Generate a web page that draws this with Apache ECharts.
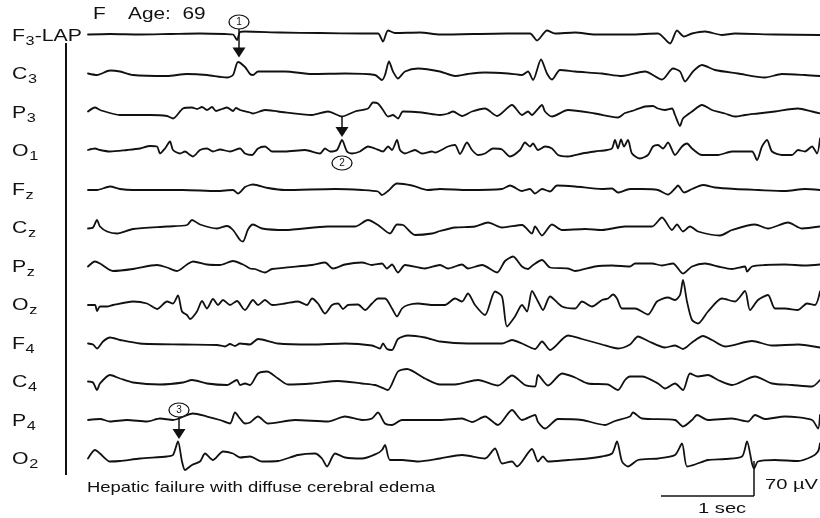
<!DOCTYPE html>
<html><head><meta charset="utf-8">
<script src="https://cdn.jsdelivr.net/npm/echarts@6/dist/echarts.min.js"></script>
<style>html,body{margin:0;padding:0;background:#fff}#c{width:820px;height:518px}</style>
</head><body><div id="c"></div>
<script>
// ---- data: [sample index, deflection µV] per channel (FS samples per second) ----
const FS = 93;          // samples per second
const SPACING = 77;     // µV between channel baselines
const CHANNEL_NAMES = ['F3-LAP','C3','P3','O1','Fz','Cz','Pz','Oz','F4','C4','P4','O2'];
const LABELS = [['F','3','-LAP'],['C','3',''],['P','3',''],['O','1',''],['F','z',''],['C','z',''],['P','z',''],['O','z',''],['F','4',''],['C','4',''],['P','4',''],['O','2','']];

const F3_LAP = [[0,1],[22,2],[52,1],[82,2],[112,3],[137,2],[145,1],[149,-10],[152,6],[157,7],[192,5],[232,4],[274,3],[290,3],[295,-13],[300,9],[307,4],[332,5],[352,1],[419,3],[442,3],[449,-11],[459,9],[467,3],[487,5],[507,1],[542,1],[570,3],[582,-17],[589,9],[596,-3],[604,3],[617,7],[634,0],[647,3],[687,1],[732,0]];
const C3 = [[0,0],[9,-3],[22,6],[32,4],[45,-3],[79,-5],[99,-1],[119,-3],[139,-8],[145,-3],[150,23],[157,13],[162,-1],[165,-3],[170,4],[197,4],[224,-1],[257,0],[287,-3],[294,-13],[297,-3],[301,24],[305,4],[310,-10],[317,4],[330,10],[352,4],[367,-5],[380,-1],[397,2],[420,0],[434,-3],[440,4],[445,-13],[453,28],[459,0],[464,-12],[472,7],[487,4],[514,0],[534,-5],[557,4],[574,-12],[585,10],[592,4],[597,-16],[605,4],[614,17],[627,7],[650,0],[677,-8],[694,-1],[717,-3],[732,-5]];
const P3 = [[0,1],[7,9],[12,4],[32,-6],[62,-6],[79,-8],[85,-13],[95,7],[104,9],[109,6],[114,10],[119,4],[124,10],[128,2],[134,6],[139,9],[145,2],[148,8],[152,4],[162,-1],[165,-3],[177,4],[190,1],[224,-6],[240,1],[254,-9],[267,1],[280,7],[285,19],[290,17],[295,4],[300,-9],[305,-6],[310,-13],[315,1],[334,-1],[352,-6],[360,-3],[365,1],[374,-8],[384,1],[397,7],[409,-8],[424,14],[434,-6],[440,1],[444,-6],[449,4],[454,14],[457,1],[464,-9],[480,4],[507,-3],[530,-11],[537,-2],[547,4],[557,11],[565,12],[570,7],[577,4],[584,7],[587,-6],[592,-28],[595,-13],[604,1],[614,14],[624,4],[637,-3],[647,-9],[657,-6],[670,-3],[687,1],[710,7],[724,1],[732,-3]];
const O1 = [[0,1],[7,4],[12,1],[22,-2],[39,1],[52,4],[62,9],[69,8],[72,-6],[77,4],[82,18],[85,1],[92,-6],[97,-2],[102,-9],[105,-12],[112,1],[119,4],[125,-2],[132,2],[142,-2],[152,4],[157,-6],[164,-9],[170,4],[177,8],[184,-2],[197,-2],[217,1],[232,-6],[237,4],[242,-2],[249,1],[254,21],[259,-2],[264,-6],[272,-2],[280,8],[287,4],[295,-2],[300,8],[304,1],[309,21],[312,1],[317,-6],[327,1],[334,-6],[344,-2],[347,-4],[360,8],[367,11],[372,-7],[379,16],[384,1],[390,-9],[397,-6],[405,4],[414,2],[422,-12],[432,1],[437,16],[442,8],[445,14],[450,1],[457,8],[464,4],[470,-9],[480,-12],[494,-6],[507,-2],[519,1],[524,4],[527,21],[530,4],[533,22],[536,8],[540,21],[544,-6],[552,-16],[560,-9],[565,8],[570,11],[575,4],[580,16],[587,-9],[594,8],[599,14],[604,4],[614,-9],[630,-9],[644,-2],[664,-2],[669,-19],[674,8],[679,21],[684,-2],[694,-9],[704,-9],[710,1],[717,-2],[724,8],[729,-6],[732,24]];
const FZ = [[0,-2],[9,-2],[22,5],[32,0],[45,-2],[95,-2],[129,-4],[145,-2],[150,-9],[157,4],[162,8],[165,9],[180,2],[197,-2],[247,0],[274,-2],[290,-5],[294,-12],[300,-4],[309,11],[324,7],[340,-2],[352,0],[380,-2],[414,0],[422,7],[434,-4],[442,0],[447,-9],[454,0],[462,-5],[469,7],[487,5],[514,0],[524,1],[530,-7],[542,0],[554,0],[570,-2],[580,-11],[587,1],[590,7],[596,-7],[604,0],[615,8],[627,3],[647,0],[670,-2],[697,-4],[717,0],[732,-2]];
const CZ = [[0,-2],[5,0],[9,15],[12,2],[19,-8],[29,-12],[45,-3],[79,2],[99,5],[104,15],[112,6],[129,-2],[139,3],[145,-5],[152,-25],[155,-28],[160,-4],[165,6],[174,-2],[197,-5],[240,2],[267,2],[280,15],[290,5],[302,-12],[309,6],[315,5],[327,-15],[344,-12],[352,-7],[367,0],[387,2],[400,10],[414,0],[434,5],[444,-12],[447,2],[454,-16],[464,6],[474,-5],[497,-3],[514,-5],[537,2],[564,2],[574,20],[584,-5],[589,6],[595,-8],[602,2],[610,-8],[632,-16],[644,-5],[667,6],[680,-2],[700,10],[714,-2],[732,2]];
const PZ = [[0,-1],[7,9],[12,5],[25,-10],[45,-6],[69,2],[79,-3],[89,-10],[99,3],[105,9],[119,3],[132,2],[145,10],[155,3],[162,-5],[167,-6],[177,-13],[184,-6],[224,2],[237,7],[245,-5],[257,3],[274,7],[284,2],[294,5],[299,-5],[304,3],[310,-13],[317,2],[337,-5],[352,2],[360,-5],[374,3],[380,-5],[394,2],[409,-13],[417,10],[425,19],[434,-1],[440,-6],[445,2],[454,12],[462,-3],[480,-5],[487,-10],[507,-1],[524,1],[542,-1],[547,5],[564,5],[574,1],[585,5],[595,-15],[604,-1],[617,5],[630,-1],[644,-6],[657,-1],[659,-11],[664,-1],[677,2],[697,3],[717,1],[732,3]];
const OZ = [[0,-1],[7,-1],[9,-13],[12,-4],[19,-4],[25,-1],[45,6],[59,2],[69,-9],[79,6],[85,2],[90,18],[94,-14],[99,-21],[102,-29],[109,-14],[114,7],[119,-8],[125,11],[130,-1],[135,9],[142,-1],[149,7],[155,-8],[157,-11],[165,9],[170,-1],[177,9],[184,-1],[197,2],[210,6],[219,-1],[224,12],[230,2],[237,-18],[244,-1],[250,2],[255,-9],[260,-1],[270,0],[277,-11],[284,2],[290,12],[297,12],[304,-8],[309,-24],[314,-8],[320,-1],[330,2],[344,-1],[352,-1],[357,-1],[367,12],[374,6],[380,22],[387,-1],[397,-21],[407,26],[414,16],[419,-44],[427,-24],[434,-1],[439,-14],[444,27],[450,6],[455,-11],[462,16],[474,-4],[487,-8],[494,6],[504,-4],[514,9],[520,12],[525,20],[529,12],[534,-8],[547,-8],[560,-20],[569,6],[580,14],[587,9],[592,19],[595,49],[599,6],[604,-31],[610,-38],[620,-14],[634,12],[647,6],[657,27],[662,-11],[670,9],[680,19],[687,-8],[697,-8],[710,-11],[719,2],[727,-1],[732,26]];
const F4 = [[0,-1],[5,-3],[9,-11],[15,3],[22,11],[32,6],[52,-1],[95,-3],[129,-4],[137,-7],[142,-2],[147,-6],[152,-1],[162,-3],[170,8],[190,-1],[224,-3],[257,-1],[284,-5],[292,-11],[295,-1],[299,-12],[304,-14],[310,8],[320,15],[337,11],[352,3],[380,-1],[414,-1],[424,6],[434,-1],[447,-12],[454,3],[462,-14],[480,15],[494,8],[514,-3],[530,-11],[542,-3],[550,13],[560,4],[577,-9],[587,-5],[595,-12],[604,1],[615,14],[624,6],[637,-7],[664,4],[684,-5],[710,-3],[732,-9]];
const C4 = [[0,0],[5,-2],[9,-17],[12,-4],[22,13],[32,6],[45,-2],[72,-6],[95,-2],[104,3],[119,-4],[139,-7],[149,3],[152,-7],[157,-4],[162,-7],[170,16],[179,20],[190,6],[200,-6],[224,-4],[250,1],[274,-4],[287,-7],[297,-15],[300,-17],[310,20],[319,25],[337,6],[352,-6],[367,-6],[390,3],[410,-8],[424,12],[437,-7],[447,-10],[450,13],[460,-8],[474,16],[487,8],[500,-4],[520,-6],[530,-17],[537,3],[542,10],[554,10],[570,-4],[577,-14],[587,-4],[595,-17],[602,16],[610,10],[620,13],[630,3],[644,-7],[667,10],[684,-4],[704,-7],[724,-10],[732,3]];
const P4 = [[0,0],[12,2],[22,-3],[39,0],[59,-3],[72,3],[85,0],[105,13],[119,7],[132,0],[142,-7],[147,15],[152,3],[157,-7],[162,-5],[170,7],[180,-7],[207,0],[240,-3],[257,7],[274,0],[284,3],[290,15],[297,-7],[304,-10],[314,0],[352,0],[374,3],[384,-4],[397,7],[410,-10],[424,20],[434,0],[447,10],[450,-4],[457,-17],[470,2],[494,0],[517,-10],[527,-2],[542,7],[545,15],[554,3],[587,0],[595,-13],[604,0],[609,10],[620,0],[644,3],[660,-3],[667,10],[677,2],[697,7],[724,0],[730,-17],[732,10]];
const O2 = [[0,0],[7,17],[12,10],[22,-6],[32,-5],[52,0],[79,4],[85,7],[90,34],[94,-6],[97,-23],[104,-13],[112,-6],[117,10],[125,-3],[135,14],[145,10],[152,2],[162,4],[174,-6],[190,-5],[210,7],[227,10],[234,0],[239,-16],[247,10],[257,2],[274,0],[289,10],[294,17],[297,27],[302,-3],[314,-3],[330,-6],[352,0],[374,7],[397,0],[407,20],[414,-10],[424,-6],[429,-16],[444,19],[450,-6],[455,4],[460,-6],[480,-3],[500,0],[514,4],[524,10],[529,34],[534,-6],[540,-16],[550,-3],[570,0],[587,7],[594,30],[599,-16],[607,-12],[620,-3],[637,-1],[654,4],[659,34],[664,-10],[666,-20],[670,-6],[687,-3],[710,-5],[724,4],[730,14],[732,30]];
const SERIES_VALUES = [F3_LAP, C3, P3, O1, FZ, CZ, PZ, OZ, F4, C4, P4, O2];

// annotations (sample index, values in µV of the shared axis)
const ANNOTS = [
  {n:'1', sample:151, circle:26,   shaftTop:12,   shaftBot:-30,  head:-35},
  {n:'2', sample:254, circle:-256, shaftTop:-162, shaftBot:-188, head:-194},
  {n:'3', sample:91,  circle:-750, shaftTop:-764, shaftBot:-790, head:-798}
];
const SCALE_SEC = 1, SCALE_UV = 70;

// ---- chart ----
const INK = '#111';
const FONT = '"Liberation Sans", Arial, Helvetica, sans-serif';
const SX = 1.3;
const chart = echarts.init(document.getElementById('c'), null, {renderer:'canvas'});
const TMAX = 732 / FS;
const series = SERIES_VALUES.map((arr, i) => ({
  name: CHANNEL_NAMES[i], type:'line', silent:true, animation:false,
  data: arr.map(([s, v]) => [s / FS, v - i * SPACING]),
  showSymbol:false, symbol:'none', smooth:0.25,
  lineStyle:{color:INK, width:1.8, join:'round', cap:'round'}
}));
const markPts = [], markLns = [];
ANNOTS.forEach(a => {
  const t = a.sample / FS;
  markPts.push({coord:[t, a.circle], symbol:'circle', symbolSize:[20,14],
    itemStyle:{color:'#fff', borderColor:INK, borderWidth:1.1},
    label:{show:true, formatter:a.n, position:'inside', color:INK, fontSize:10, fontFamily:FONT}});
  markPts.push({coord:[t, a.head], symbol:'triangle', symbolRotate:180, symbolSize:[13,10],
    itemStyle:{color:INK, borderWidth:0}, label:{show:false}});
  markLns.push([{coord:[t, a.shaftTop]}, {coord:[t, a.shaftBot]}]);
});
const t1 = 666 / FS, vb = -922;
markLns.push([{coord:[t1 - SCALE_SEC, vb]}, {coord:[t1, vb]}]);
markLns.push([{coord:[t1, vb]}, {coord:[t1, vb + SCALE_UV]}]);
series.push({
  type:'line', data:[], silent:true, animation:false,
  markPoint:{animation:false, silent:true, data:markPts},
  markLine:{animation:false, silent:true, symbol:['none','none'], label:{show:false},
    lineStyle:{color:INK, width:1.5, type:'solid'}, emphasis:{disabled:true}, data:markLns}
});

chart.setOption({
  backgroundColor:'#fff', animation:false,
  grid:{left:88, right:0, top:0, bottom:0, containLabel:false},
  xAxis:{type:'value', min:0, max:TMAX, show:false},
  yAxis:{type:'value', min:-966, max:70, show:false},
  series
});

function txt(str, x, y, size, extra) {
  return Object.assign({type:'text', x, y, style:{text:str, font:size + 'px ' + FONT, fontSize:size, fontFamily:FONT,
    fill:INK, textVerticalAlign:'middle', verticalAlign:'middle', textAlign:'left', align:'left'}}, extra || {});
}
const ctx = document.createElement('canvas').getContext('2d');
function w(str, size) { ctx.font = size + 'px "Liberation Sans"'; return ctx.measureText(str).width; }

const graphics = [];
graphics.push({type:'rect', shape:{x:65, y:43, width:2, height:432}, style:{fill:INK}});
LABELS.forEach((lab, i) => {
  const py = chart.convertToPixel({gridIndex:0}, [0, -i * SPACING])[1] + 1;
  const wm = w(lab[0], 17), ws = w(lab[1], 13);
  graphics.push({type:'group', x:12, y:py, scaleX:1.25, children:[
    txt(lab[0], 0, 0, 17),
    txt(lab[1], wm + 0.5, 5, 13),
    txt(lab[2], wm + ws + 0.5, 0, 17)
  ]});
});
graphics.push({type:'group', x:93, y:15, scaleX:SX, children:[txt('F', 0, 0, 16), txt('Age:  69', 27, 0, 16)]});
graphics.push({type:'group', x:87, y:488, scaleX:1.3, children:[txt('Hepatic failure with diffuse cerebral edema', 0, 0, 14.2)]});
graphics.push({type:'group', x:765, y:485, scaleX:SX, children:[txt('70 \u00b5V', 0, 0, 15.5)]});
graphics.push({type:'group', x:698, y:509, scaleX:SX, children:[txt('1 sec', 0, 0, 15.5)]});
chart.setOption({graphic:graphics});
</script></body></html>
